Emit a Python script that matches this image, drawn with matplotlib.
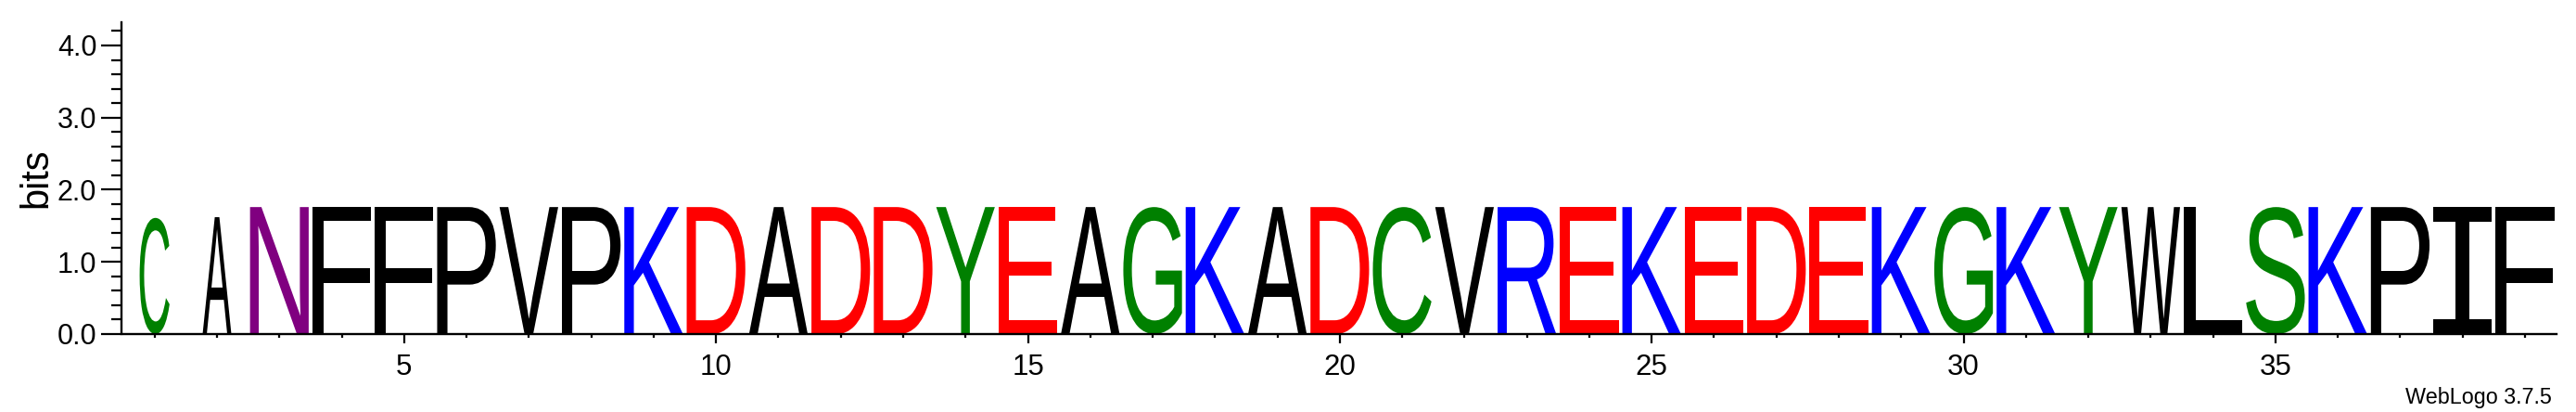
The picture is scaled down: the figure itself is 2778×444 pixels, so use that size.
import matplotlib
matplotlib.use('Agg')
import matplotlib.pyplot as plt
from matplotlib.textpath import TextPath
from matplotlib.patches import PathPatch
from matplotlib.font_manager import FontProperties
from matplotlib.transforms import Affine2D
from matplotlib.ticker import MultipleLocator

# 위치별 글자 / 높이(bits) / 스택 폭
positions = list(range(1, 40))
letters = list("CANFFPVPKDADDYEAGKADCVREKEDEKGKYWLSKPIF")
heights = [1.61, 1.62, 1.76, 1.76, 1.76, 1.76, 1.76, 1.76, 1.76, 1.76,
           1.76, 1.76, 1.76, 1.76, 1.76, 1.76, 1.76, 1.76, 1.76, 1.76,
           1.76, 1.76, 1.76, 1.76, 1.76, 1.76, 1.76, 1.76, 1.76, 1.76,
           1.76, 1.76, 1.76, 1.76, 1.76, 1.76, 1.76, 1.76, 1.76]
widths = [0.51, 0.49, 1.0, 1.0, 1.0, 1.0, 1.0, 1.0, 1.0, 1.0,
          1.0, 1.0, 1.0, 1.0, 1.0, 1.0, 1.0, 1.0, 1.0, 1.0,
          1.0, 1.0, 1.0, 1.0, 1.0, 1.0, 1.0, 1.0, 1.0, 1.0,
          1.0, 1.0, 1.0, 1.0, 1.0, 1.0, 1.0, 1.0, 1.0]

x_ticks = [5, 10, 15, 20, 25, 30, 35]
x_ticklabels = ['5', '10', '15', '20', '25', '30', '35']
y_ticks = [0, 1, 2, 3, 4]
y_ticklabels = ['0.0', '1.0', '2.0', '3.0', '4.0']

# chemistry 색상표
colors = {}
for c in "GSTYC":
    colors[c] = '#008000'
for c in "NQ":
    colors[c] = '#800080'
for c in "KRH":
    colors[c] = '#0000FF'
for c in "DE":
    colors[c] = '#FF0000'
for c in "PAWFLIMV":
    colors[c] = '#000000'

plt.rcParams['font.family'] = ['Liberation Sans', 'DejaVu Sans']

fig = plt.figure(figsize=(27.78, 4.44), dpi=100)
ax = fig.add_axes([0.04791, 0.18919, 0.94439, 0.75649])

logo_font = FontProperties(family='Liberation Sans')
# I 는 세리프 있는 모양이 필요해서 mono 폰트 사용
serif_i_font = FontProperties(family='Liberation Mono')
pad = 0.94  # 글자 사이 여백


def draw_letter(ch, x, h, w, color):
    prop = serif_i_font if ch == 'I' else logo_font
    tp = TextPath((0, 0), ch, size=1, prop=prop)
    bb = tp.get_extents()
    t = Affine2D().translate(-bb.x0, -bb.y0).scale(w / bb.width, h / bb.height).translate(x - w / 2, 0)
    ax.add_patch(PathPatch(t.transform_path(tp), facecolor=color, edgecolor='none'))


for p, ch, h, w in zip(positions, letters, heights, widths):
    draw_letter(ch, p, h, w * pad, colors[ch])

ax.set_xlim(0.5, 39.5)
ax.set_ylim(0, 4.32)

ax.spines['top'].set_visible(False)
ax.spines['right'].set_visible(False)
ax.spines['left'].set_position(('outward', 1.5))
ax.spines['left'].set_linewidth(1.7)
ax.spines['bottom'].set_linewidth(1.7)

ax.set_xticks(x_ticks)
ax.set_xticklabels(x_ticklabels)
ax.set_xticks(positions, minor=True)
ax.set_yticks(y_ticks)
ax.set_yticklabels(y_ticklabels)
ax.yaxis.set_minor_locator(MultipleLocator(0.2))

ax.tick_params(axis='x', which='major', length=7.2, width=1.6, labelsize=22.5, pad=8)
ax.tick_params(axis='x', which='minor', length=3.2, width=1.6)
ax.tick_params(axis='y', which='major', length=15.8, width=1.6, labelsize=22, pad=3.4)
ax.tick_params(axis='y', which='minor', length=7.9, width=1.6)

ax.set_ylabel('bits', fontsize=30)
ax.yaxis.set_label_coords(-0.028, 0.5)

fig.text(2752 / 2778, 9 / 444, 'WebLogo 3.7.5', ha='right', va='baseline', fontsize=16.8)

plt.savefig('out.png', dpi=100)
